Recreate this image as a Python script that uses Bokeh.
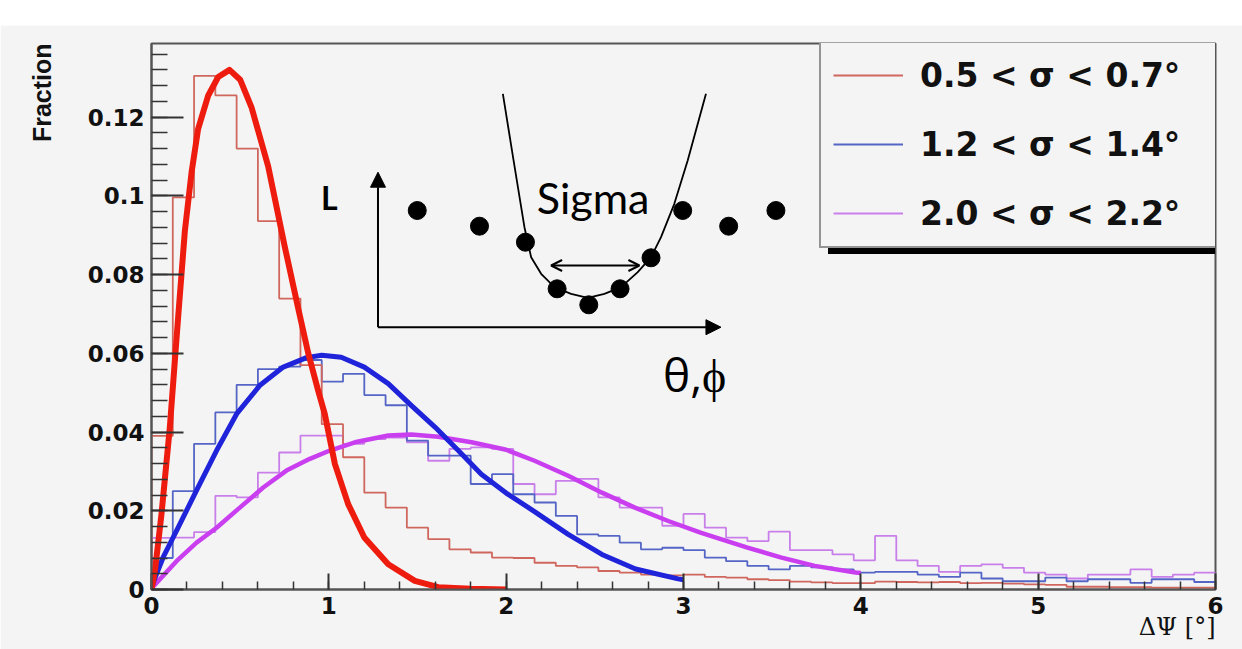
from bokeh.plotting import figure
from bokeh.models import (Range1d, FixedTicker, CustomJSTickFormatter, Legend, LegendItem,
                          Label, Arrow, NormalHead, OpenHead, Title)
from bokeh.embed import file_html
from bokeh.resources import INLINE

# ---------------- data ----------------
BIN_WIDTH = 0.12  # 50 bins over 0..6 deg

red_hist = [0.039, 0.0996, 0.1305, 0.1255, 0.112, 0.0936, 0.0739, 0.057, 0.042, 0.0336,
            0.0246, 0.0208, 0.0157, 0.0128, 0.0102, 0.0094, 0.0081, 0.008, 0.0068, 0.006,
            0.0056, 0.0047, 0.0043, 0.0038, 0.0036, 0.0038, 0.0032, 0.003, 0.0026, 0.0024,
            0.002, 0.0018, 0.0016, 0.0016, 0.002, 0.0019, 0.0018, 0.0019, 0.0016, 0.0017,
            0.0015, 0.0013, 0.0012, 0.0007, 0.0007, 0.0006, 0.0006, 0.0005, 0.0005, 0.0005]
blue_hist = [0.008, 0.025, 0.037, 0.045, 0.052, 0.056, 0.0566, 0.0583, 0.0528, 0.0548,
             0.0494, 0.0468, 0.0378, 0.034, 0.034, 0.0268, 0.0293, 0.0242, 0.0221, 0.0187,
             0.014, 0.0136, 0.0119, 0.0102, 0.0106, 0.01, 0.0081, 0.0072, 0.006, 0.0051,
             0.006, 0.0056, 0.0051, 0.0043, 0.0045, 0.0045, 0.0038, 0.0032, 0.0043, 0.0028,
             0.0021, 0.0021, 0.003, 0.0021, 0.0026, 0.0026, 0.0017, 0.0026, 0.0026, 0.0019]
mag_hist = [0.0131, 0.0132, 0.0146, 0.0238, 0.0234, 0.0297, 0.0348, 0.0391, 0.0391, 0.037,
            0.0382, 0.0386, 0.0374, 0.0327, 0.0357, 0.0361, 0.0357, 0.0268, 0.0242, 0.0276,
            0.0281, 0.0234, 0.0208, 0.0208, 0.0162, 0.0192, 0.0157, 0.0132, 0.0123, 0.0147,
            0.01, 0.01, 0.0089, 0.0074, 0.0136, 0.0074, 0.006, 0.0045, 0.006, 0.0064,
            0.0055, 0.0043, 0.0038, 0.0028, 0.0038, 0.0038, 0.0051, 0.0032, 0.0038, 0.0043]

red_fit_x = [0, 0.02, 0.056, 0.103, 0.15, 0.188, 0.226, 0.263, 0.32, 0.376, 0.44, 0.5, 0.564,
             0.658, 0.752, 0.827, 0.884, 0.94, 0.977, 1.034, 1.109, 1.2, 1.335, 1.485, 1.617,
             1.8, 2.0]
red_fit_y = [0, 0.005, 0.019, 0.041, 0.069, 0.091, 0.106, 0.117, 0.1255, 0.1302, 0.132, 0.1295,
             0.1225, 0.1075, 0.087, 0.0715, 0.06, 0.0505, 0.0446, 0.0319, 0.0217, 0.0132,
             0.0064, 0.0022, 0.0006, 0.0002, 0.0]
blue_fit_x = [0, 0.01, 0.066, 0.15, 0.254, 0.367, 0.48, 0.61, 0.743, 0.874, 0.96, 1.07, 1.2,
              1.335, 1.466, 1.6, 1.73, 1.86, 2.0, 2.16, 2.35, 2.54, 2.73, 2.97, 3.0]
blue_fit_y = [0, 0.0018, 0.0082, 0.0157, 0.0252, 0.0353, 0.0446, 0.0518, 0.0565, 0.0589, 0.0595,
              0.059, 0.0565, 0.0523, 0.0467, 0.0412, 0.0353, 0.0293, 0.0245, 0.0198, 0.014,
              0.0089, 0.0052, 0.0027, 0.0025]
mag_fit_x = [0, 0.01, 0.141, 0.254, 0.367, 0.498, 0.63, 0.761, 0.893, 1.006, 1.147, 1.335, 1.466,
             1.617, 1.805, 2.0, 2.16, 2.35, 2.54, 2.726, 2.914, 3.1, 3.365, 3.553, 3.74, 3.97, 4.0]
mag_fit_y = [0, 0.0008, 0.0072, 0.0119, 0.0157, 0.0208, 0.0259, 0.0302, 0.0332, 0.0353, 0.0374,
             0.0391, 0.0394, 0.0388, 0.0374, 0.0355, 0.0327, 0.0289, 0.0246, 0.0208, 0.0174,
             0.0144, 0.0106, 0.0081, 0.006, 0.0043, 0.0042]

legend_labels = ["0.5 < σ < 0.7°", "1.2 < σ < 1.4°", "2.0 < σ < 2.2°"]
x_ticks = [0, 1, 2, 3, 4, 5, 6]
y_ticks = [0, 0.02, 0.04, 0.06, 0.08, 0.1, 0.12]

# inset sketch (its own units, origin at the sketch's axis corner)
sketch_dots_x = [39.3, 101.6, 147.6, 179.3, 211.0, 242.3, 273.3, 305.0, 351.0, 398.3]
sketch_dots_y = [116.7, 101.0, 85.0, 38.4, 22.4, 38.4, 69.4, 116.7, 101.0, 116.7]
sketch_curve_x = [125.0, 135.5, 146.6, 153.3, 163.3, 176.6, 193.3, 210.0, 226.6, 243.3, 260.0,
                  273.3, 283.3, 296.6, 310.0, 328.3]
sketch_curve_y = [233.4, 168.0, 100.0, 70.0, 53.4, 40.0, 33.4, 29.4, 33.4, 40.0, 55.0,
                  70.0, 90.0, 123.4, 166.7, 233.4]

# ---------------- figure ----------------
p = figure(width=1242, height=624, x_range=Range1d(0, 6), y_range=Range1d(0, 0.1387),
           output_backend="svg", toolbar_location=None,
           min_border_left=150, min_border_right=27, min_border_top=18, min_border_bottom=60,
           background_fill_color="#f4f4f4", border_fill_color="#f4f4f4",
           outline_line_color="#555555", outline_line_width=2)
p.margin = (25, 0, 0, 0)
p.grid.visible = False

p.extra_x_ranges = {"sk_x": Range1d(-226.7, 838.3)}
p.extra_y_ranges = {"sk_y": Range1d(-262.3, 283.7)}

def step_xy(h):
    xs = [0.0] + [i * BIN_WIDTH for i in range(len(h) + 1)]
    ys = [0.0] + list(h) + [h[-1]]
    return xs, ys

hist_r = {}
for key, h, col in (("mag", mag_hist, "#c97fe9"), ("blue", blue_hist, "#5565c6"),
                    ("red", red_hist, "#d0675e")):
    xs, ys = step_xy(h)
    hist_r[key] = p.step(xs, ys, mode="after", line_color=col, line_width=1.8)

p.line(mag_fit_x, mag_fit_y, line_color="#c93ff0", line_width=4.5, line_join="round")
p.line(blue_fit_x, blue_fit_y, line_color="#1f23d9", line_width=5, line_join="round")
p.line(red_fit_x, red_fit_y, line_color="#ee1c0e", line_width=6, line_join="round")

# inset sketch
SK = dict(x_range_name="sk_x", y_range_name="sk_y")
p.line(sketch_curve_x, sketch_curve_y, line_color="black", line_width=1.8, **SK)
p.scatter(sketch_dots_x, sketch_dots_y, size=18, fill_color="black", line_color="black", **SK)
p.add_layout(Arrow(end=NormalHead(size=15, fill_color="black", line_color="black"),
                   x_start=0, y_start=0, x_end=0, y_end=155, line_width=2, **SK))
p.add_layout(Arrow(end=NormalHead(size=15, fill_color="black", line_color="black"),
                   x_start=0, y_start=0, x_end=343.3, y_end=0, line_width=2, **SK))
p.add_layout(Arrow(start=OpenHead(size=11, line_width=2), end=OpenHead(size=11, line_width=2),
                   x_start=173.3, y_start=61.7, x_end=261.7, y_end=61.7, line_width=2, **SK))
p.add_layout(Label(x=-48.7, y=129.7, text="L", text_align="center", text_baseline="alphabetic",
                   text_font="Lato", text_font_style="bold", text_font_size="32px",
                   text_color="black", **SK))
p.add_layout(Label(x=159, y=130, text="Sigma", text_align="left", text_baseline="alphabetic",
                   text_font="Lato", text_font_size="43px", text_color="black", **SK))
p.add_layout(Label(x=285.3, y=-46.3, text="θ,ϕ", text_align="left", text_baseline="alphabetic",
                   text_font="Open Sans", text_font_size="46px", text_color="black", **SK))

# axes
p.xaxis.ticker = FixedTicker(ticks=x_ticks, minor_ticks=[i * 0.2 for i in range(31)])
p.yaxis.ticker = FixedTicker(ticks=y_ticks, minor_ticks=[i * 0.004 for i in range(35)])
p.yaxis.formatter = CustomJSTickFormatter(code="return String(Math.round(tick*1000)/1000);")
for ax in (p.xaxis, p.yaxis):
    ax.axis_line_color = "#555555"
    ax.axis_line_width = 2
    ax.major_tick_out = 0
    ax.minor_tick_out = 0
    ax.major_tick_line_color = "#333333"
    ax.minor_tick_line_color = "#333333"
    ax.major_tick_line_width = 2
    ax.minor_tick_line_width = 1.5
    ax.major_label_text_font = "DejaVu Sans"
    ax.major_label_text_font_style = "bold"
    ax.major_label_text_font_size = "23px"
    ax.major_label_text_color = "#111111"
p.yaxis.major_tick_in = 32
p.yaxis.minor_tick_in = 16
p.xaxis.major_tick_in = 16
p.xaxis.minor_tick_in = 8
p.yaxis.major_label_standoff = 7
p.xaxis.major_label_standoff = 7

p.add_layout(Title(text="ΔΨ [°]", align="right", vertical_align="top", standoff=-8,
                   text_font="DejaVu Serif", text_font_style="normal", text_font_size="24px",
                   text_color="#111111"), "below")
p.add_layout(Title(text="Fraction", align="right", vertical_align="top", standoff=54,
                   text_font="Liberation Sans", text_font_style="bold", text_font_size="25px",
                   text_color="#111111"), "left")

# legend with drop shadow (a black copy offset behind it)
items = [LegendItem(label=t, renderers=[hist_r[k]])
         for t, k in zip(legend_labels, ("red", "blue", "mag"))]
shadow_items = [LegendItem(label=" ", renderers=[hist_r[k]]) for k in ("red", "blue", "mag")]
common = dict(glyph_width=70, glyph_height=42, label_height=42, label_width=288,
              label_standoff=17, spacing=27, padding=12,
              label_text_font="DejaVu Sans", label_text_font_style="bold",
              label_text_font_size="33px")
shadow = Legend(items=shadow_items, location=(677, 335), background_fill_color="black",
                background_fill_alpha=1, border_line_alpha=0, **common)
p.add_layout(shadow)
legend = Legend(items=items, location=(668, 341), border_line_color="#333333",
                border_line_width=2, background_fill_color="#f4f4f4", background_fill_alpha=1,
                label_text_color="#111111", **common)
p.add_layout(legend)

open("out.html", "w").write(file_html(p, INLINE))
